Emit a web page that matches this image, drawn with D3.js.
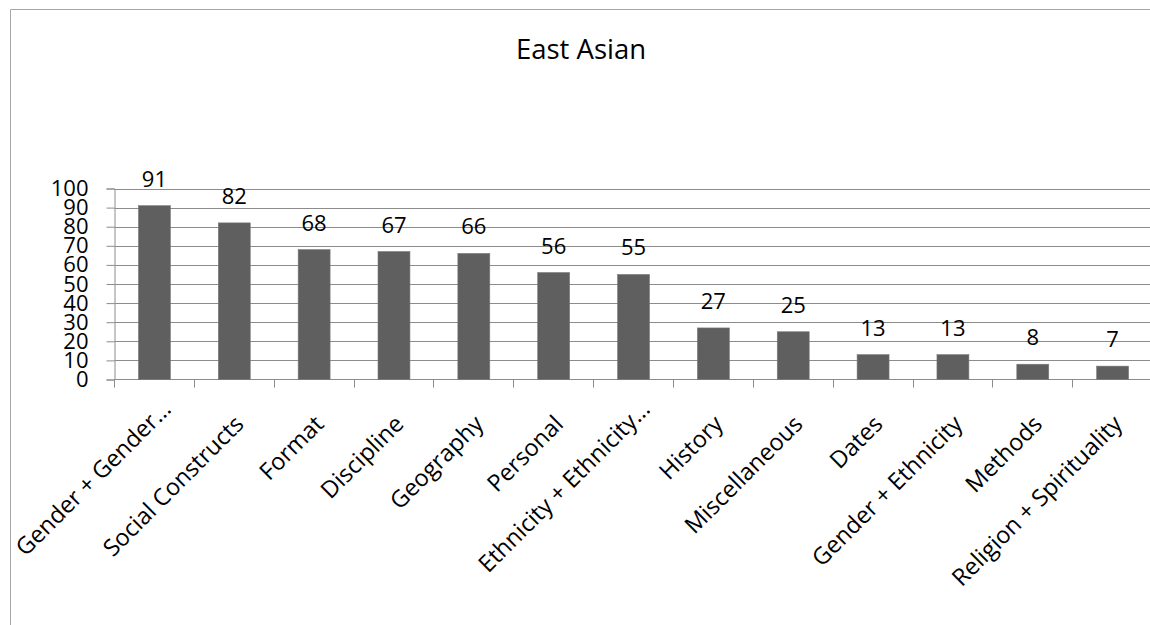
<!DOCTYPE html>
<html>
<head>
<meta charset="utf-8">
<script src="https://cdn.jsdelivr.net/npm/d3@7"></script>
<style>
  html, body { margin: 0; padding: 0; background: #fff; }
  svg { display: block; font-family: "Open Sans", "Liberation Sans", sans-serif; }
</style>
</head>
<body>
<svg id="chart" width="1150" height="625"></svg>
<script>
// Chart data
const title = "East Asian";
const categories = [
  "Gender + Gender…", "Social Constructs", "Format", "Discipline", "Geography",
  "Personal", "Ethnicity + Ethnicity…", "History", "Miscellaneous", "Dates",
  "Gender + Ethnicity", "Methods", "Religion + Spirituality"
];
const values = [91, 82, 68, 67, 66, 56, 55, 27, 25, 13, 13, 8, 7];
const yTicks = [0, 10, 20, 30, 40, 50, 60, 70, 80, 90, 100];

const svg = d3.select("#chart");

// Outer chart frame (left and top edges visible)
svg.append("path")
  .attr("d", "M10.5,625 V9.5 H1150")
  .attr("fill", "none")
  .attr("stroke", "#a6a6a6")
  .attr("stroke-width", 1);

// Title
svg.append("text")
  .attr("x", 581)
  .attr("y", 59)
  .attr("text-anchor", "middle")
  .attr("font-size", 27.5)
  .attr("fill", "#000")
  .text(title);

const plotLeft = 114.5;
const band = 79.85;
const x = d3.scaleBand()
  .domain(categories)
  .range([plotLeft, plotLeft + band * categories.length])
  .paddingInner(0.6)
  .paddingOuter(0.3);

const y = d3.scaleLinear().domain([0, 100]).range([379.5, 188.5]);

const gridColor = "#8c8c8c";

// Horizontal gridlines
svg.append("g")
  .selectAll("line")
  .data(yTicks.filter(t => t > 0))
  .join("line")
  .attr("x1", plotLeft)
  .attr("x2", 1150)
  .attr("y1", d => Math.round(y(d)) + 0.5)
  .attr("y2", d => Math.round(y(d)) + 0.5)
  .attr("stroke", gridColor)
  .attr("stroke-width", 1);

// Y axis
const yAxis = d3.axisLeft(y)
  .tickValues(yTicks)
  .tickSize(8)
  .tickPadding(18)
  .tickFormat(d3.format("d"));

const gy = svg.append("g")
  .attr("transform", `translate(${plotLeft},0)`)
  .call(yAxis);
gy.select(".domain").attr("stroke", gridColor);
gy.selectAll(".tick line").attr("stroke", gridColor);
gy.selectAll(".tick text")
  .attr("font-size", 22)
  .attr("font-family", "'Open Sans', sans-serif")
  .attr("fill", "#000");

// X axis baseline and category tick marks at band boundaries
svg.append("line")
  .attr("x1", plotLeft)
  .attr("x2", 1150)
  .attr("y1", y(0))
  .attr("y2", y(0))
  .attr("stroke", gridColor);

const boundaries = d3.range(categories.length + 1).map(i => plotLeft + i * band);
svg.append("g")
  .selectAll("line")
  .data(boundaries)
  .join("line")
  .attr("x1", d => Math.round(d - 0.5) + 0.5)
  .attr("x2", d => Math.round(d - 0.5) + 0.5)
  .attr("y1", y(0))
  .attr("y2", y(0) + 8)
  .attr("stroke", gridColor);

// Bars
svg.append("g")
  .selectAll("rect")
  .data(values)
  .join("rect")
  .attr("x", (d, i) => x(categories[i]))
  .attr("y", d => y(d))
  .attr("width", x.bandwidth())
  .attr("height", d => y(0) - y(d))
  .attr("fill", "#5f5f5f")
  .attr("stroke", "#7a7a7a")
  .attr("stroke-width", 0.6);

// Value labels above bars
svg.append("g")
  .selectAll("text")
  .data(values)
  .join("text")
  .attr("x", (d, i) => x(categories[i]) + x.bandwidth() / 2)
  .attr("y", d => y(d) - 19)
  .attr("text-anchor", "middle")
  .attr("font-size", 22)
  .attr("fill", "#000")
  .text(d => d);

// Rotated category labels
svg.append("g")
  .selectAll("text")
  .data(categories)
  .join("text")
  .attr("transform", (d, i) => {
    const cx = x(d) + x.bandwidth() / 2;
    const truncated = d.endsWith("…");
    const ax = cx + (truncated ? 18 : 11);
    const ay = y(0) + (truncated ? 31 : 46);
    return `translate(${ax},${ay}) rotate(-45)`;
  })
  .attr("text-anchor", "end")
  .attr("font-size", 23.5)
  .attr("fill", "#000")
  .text(d => d);
</script>
</body>
</html>
